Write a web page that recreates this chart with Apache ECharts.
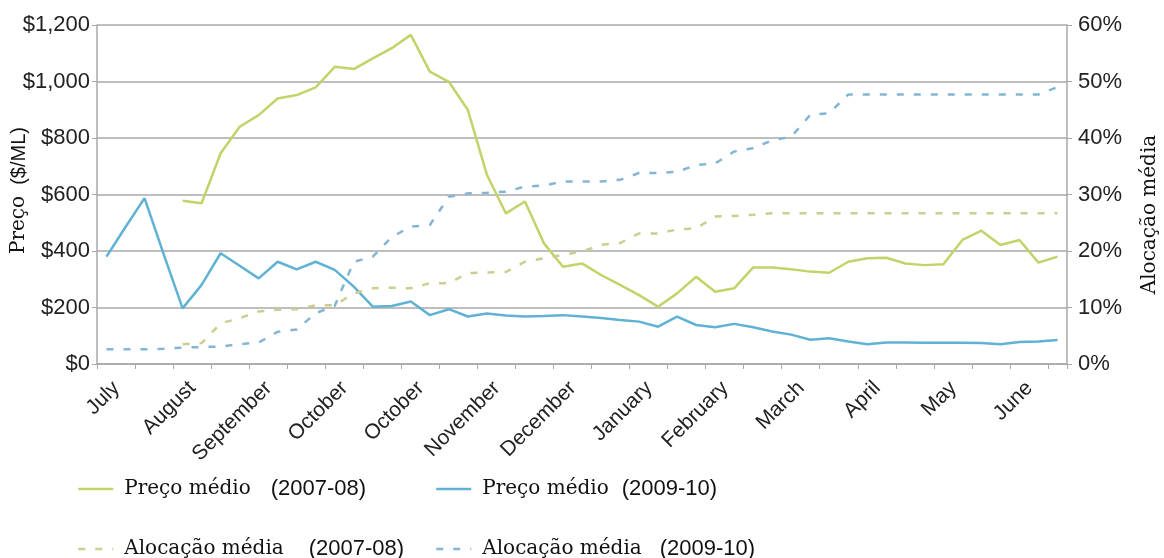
<!DOCTYPE html>
<html>
<head>
<meta charset="utf-8">
<script src="https://cdn.jsdelivr.net/npm/echarts@6/dist/echarts.min.js"></script>
<style>
	html,body{margin:0;padding:0;background:#fff;}
	#main{width:1164px;height:558px;}
</style>
</head>
<body>
<div id="main"></div>
<script>
// semanas (51), rótulo do mês a cada 4 semanas
var categories = [
	'July','','','',
	'August','','','',
	'September','','','',
	'October','','','',
	'October','','','',
	'November','','','',
	'December','','','',
	'January','','','',
	'February','','','',
	'March','','','',
	'April','','','',
	'May','','','',
	'June','',''
];

// Preço médio ($/ML)
var preco0708 = [null,null,null,null,578,569,746,840,881,940,
	952,979,1052,1044,1082,1118,1165,1035,999,899,
	670,533,575,427,344,356,315,280,244,203,
	250,309,256,268,342,342,335,327,323,362,
	374,376,356,350,353,439,472,421,439,359,380];
var preco0910 = [380,485,587,390,197,280,392,348,303,362,
	335,362,333,274,203,205,221,173,194,168,
	179,172,168,170,173,168,163,156,150,132,
	168,138,130,142,130,115,104,86,91,80,
	70,76,76,75,75,75,74,70,78,80,85];

// Alocação média (%)
var aloc0708 = [null,null,null,null,3.5,3.7,7.2,8.1,9.3,9.6,
	9.7,10.4,10.4,12.5,13.4,13.5,13.4,14.3,14.3,16.1,
	16.2,16.3,18.1,18.7,19.3,19.9,21.1,21.4,23.1,23.1,
	23.8,24.0,26.1,26.2,26.4,26.7,26.7,26.7,26.7,26.7,
	26.7,26.7,26.7,26.7,26.7,26.7,26.7,26.7,26.7,26.7,26.7];
var aloc0910 = [2.6,2.6,2.6,2.7,2.9,3.0,3.1,3.5,3.8,5.7,
	6.1,9.0,10.3,18.1,19.0,22.5,24.3,24.6,29.6,30.2,
	30.3,30.5,31.4,31.6,32.3,32.3,32.3,32.6,33.8,33.8,
	34.0,35.2,35.5,37.6,38.2,39.6,40.2,44.1,44.4,47.7,
	47.7,47.7,47.7,47.7,47.7,47.7,47.7,47.7,47.7,47.7,49.0];

var serieNames = ['Preço médio (2007-08)','Preço médio (2009-10)','Alocação média (2007-08)','Alocação média (2009-10)'];

var sans = 'Liberation Sans';
var serif = 'DejaVu Serif';
var gridColor = '#a8a8a8';

function makeLegend(name, left, top, gap){
	return {
		data : [name],
		left : left,
		top : top,
		padding : 0,
		itemWidth : 35,
		itemHeight : 14,
		selectedMode : false,
		itemStyle : {opacity : 0},//sem símbolo
		lineStyle : {width : 2.5},
		formatter : function(n){
			var i = n.indexOf(' (');
			return '{a|' + n.substring(0, i) + '}{b|' + n.substring(i + 1) + '}';
		},
		textStyle : {
			rich : {
				a : {fontFamily : serif, fontSize : 20, color : '#111', padding : [0,0,0,6]},
				b : {fontFamily : sans, fontSize : 22, color : '#111', padding : [0,0,0,gap]}
			}
		}
	};
}

var myChart = echarts.init(document.getElementById('main'));
var option = {
	backgroundColor : '#fff',
	animation : false,
	grid : {
		left : 97,
		right : 97,
		top : 25,
		bottom : 194,
		outerBoundsMode : 'none',
		containLabel : false
	},
	legend : [
		makeLegend(serieNames[0], 77, 478, 20),
		makeLegend(serieNames[1], 435, 478, 13),
		makeLegend(serieNames[2], 77, 538, 25),
		makeLegend(serieNames[3], 435, 538, 18)
	],
	xAxis : [ {
		type : 'category',
		data : categories,
		boundaryGap : true,
		axisLine : {lineStyle : {color : gridColor, width : 1.5}},
		axisTick : {show : true, interval : 1, length : 5, lineStyle : {color : gridColor}},
		axisLabel : {
			interval : 3,
			rotate : 45,
			margin : 11,
			verticalAlign : 'top',
			lineHeight : 28,//desloca o texto para baixo/direita
			fontFamily : sans,
			fontSize : 21,
			color : '#222'
		}
	} ],
	yAxis : [ {
		type : 'value',
		min : 0,
		max : 1200,
		interval : 200,
		name : '{a|Preço}{b|  ($/ML)}',
		nameLocation : 'middle',
		nameGap : 68,
		nameMoveOverlap : false,
		nameTextStyle : {
			padding : [0,0,0,8],
			rich : {
				a : {fontFamily : serif, fontSize : 20, color : '#111'},
				b : {fontFamily : sans, fontSize : 20, color : '#111'}
			}
		},
		axisLine : {show : true, lineStyle : {color : gridColor, width : 1.5}},
		axisTick : {show : true, length : 5, lineStyle : {color : gridColor}},
		splitLine : {lineStyle : {color : gridColor, width : 1.5}},
		axisLabel : {
			margin : 7,
			fontFamily : sans,
			fontSize : 22,
			color : '#222',
			formatter : function(v){
				return '$' + v.toLocaleString('en-US');
			}
		}
	}, {
		type : 'value',
		min : 0,
		max : 60,
		interval : 10,
		position : 'right',
		name : 'Alocação média',
		nameLocation : 'middle',
		nameGap : 73,
		nameMoveOverlap : false,
		nameTextStyle : {
			fontFamily : serif,
			fontSize : 20,
			color : '#111',
			padding : [0,40,0,0]
		},
		axisLine : {show : true, lineStyle : {color : gridColor, width : 1.5}},
		axisTick : {show : true, length : 5, lineStyle : {color : gridColor}},
		splitLine : {show : false},
		axisLabel : {
			margin : 11,
			fontFamily : sans,
			fontSize : 22,
			color : '#222',
			formatter : '{value}%'
		}
	} ],
	series : [ {
		name : serieNames[0],
		type : 'line',
		yAxisIndex : 0,
		data : preco0708,
		symbol : 'none',
		lineStyle : {color : '#c2d36a', width : 2.5},
		itemStyle : {color : '#c2d36a'}
	}, {
		name : serieNames[1],
		type : 'line',
		yAxisIndex : 0,
		data : preco0910,
		symbol : 'none',
		lineStyle : {color : '#5fb2d3', width : 2.5},
		itemStyle : {color : '#5fb2d3'}
	}, {
		name : serieNames[2],
		type : 'line',
		yAxisIndex : 1,
		data : aloc0708,
		symbol : 'none',
		lineStyle : {color : '#cccd8e', width : 2.5, type : [7, 10]},
		itemStyle : {color : '#cccd8e'}
	}, {
		name : serieNames[3],
		type : 'line',
		yAxisIndex : 1,
		data : aloc0910,
		symbol : 'none',
		lineStyle : {color : '#84b6d4', width : 2.5, type : [7, 10]},
		itemStyle : {color : '#84b6d4'}
	} ]
};
myChart.setOption(option);
</script>
</body>
</html>
